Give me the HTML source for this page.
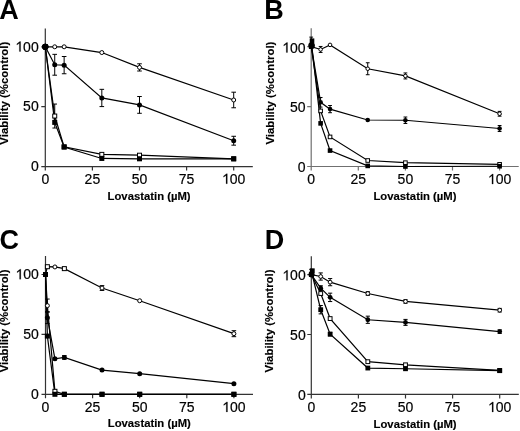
<!DOCTYPE html>
<html><head><meta charset="utf-8"><style>
html,body{margin:0;padding:0;background:#fff;overflow:hidden;width:520px;height:431px;}
svg{display:block;filter:grayscale(1);}
text{font-family:"Liberation Sans",sans-serif;fill:#000;}
.tk{font-size:14px;stroke:#000;stroke-width:0.2px;}
.one{fill:#000;stroke:#000;stroke-width:0.2px;stroke-linejoin:miter;}
.tt{font-size:11.4px;font-weight:bold;stroke:#000;stroke-width:0.15px;}
.tx{font-size:11.3px;font-weight:bold;stroke:#000;stroke-width:0.15px;}
.pl{font-size:27px;font-weight:bold;}
.ax{stroke-width:1.2;fill:none;}
.ln{stroke:#000;stroke-width:1.2;fill:none;}
.eb{stroke:#000;stroke-width:1;fill:none;}
.oc{stroke:#000;stroke-width:1;fill:#fff;}
.fc{fill:#000;stroke:none;}
</style></head><body>
<svg width="520" height="431" viewBox="0 0 520 431">
<g><path class="ax" stroke="#333" d="M45.3 28.4V170.6M41.3 166.6H252.8M41.3 106.7H45.3M41.3 46.8H45.3M92.4 166.6V170.6M139.5 166.6V170.6M186.6 166.6V170.6M233.7 166.6V170.6"/>
<text class="tk" x="38.7" y="171.3" text-anchor="end">0</text>
<text class="tk" x="38.7" y="111.4" text-anchor="end">50</text>
<text class="tk" x="38.7" y="51.5" text-anchor="end">00</text>
<polygon class="one" points="20.63,51.50 20.63,41.48 19.80,41.48 16.87,43.87 16.87,45.03 19.37,43.27 19.37,51.50"/>
<text class="tk" x="45.3" y="183.7" text-anchor="middle">0</text>
<text class="tk" x="92.4" y="183.7" text-anchor="middle">25</text>
<text class="tk" x="139.5" y="183.7" text-anchor="middle">50</text>
<text class="tk" x="186.6" y="183.7" text-anchor="middle">75</text>
<text class="tk" x="229.81" y="183.7">00</text>
<polygon class="one" points="227.30,183.70 227.30,173.68 226.48,173.68 223.55,176.07 223.55,177.23 226.04,175.47 226.04,183.70"/>
<text class="tx" x="149.1" y="199.7" text-anchor="middle">Lovastatin (µM)</text>
<text class="tt" transform="translate(8.2 93.2) rotate(-90)" text-anchor="middle">Viability (%control)</text>
<text class="pl" x="-0.7" y="19.2">A</text>
<polyline class="ln" points="45.3,46.8 54.72,116.04 64.14,146.83 101.82,154.38 139.5,155.22 233.7,158.81"/>
<polyline class="ln" points="45.3,46.8 54.72,122.39 64.14,147.07 101.82,158.45 139.5,158.81 233.7,158.81"/>
<polyline class="ln" points="45.3,46.8 54.72,64.77 64.14,65.13 101.82,97.95 139.5,104.9 233.7,140.72"/>
<polyline class="ln" points="45.3,46.8 54.72,46.8 64.14,46.8 101.82,52.55 139.5,67.41 233.7,99.99"/>
<path class="eb" d="M54.72 104.06V128.02M52.42 104.06h4.6M52.42 128.02h4.6"/>
<path class="eb" d="M54.72 54.35V75.19M52.42 54.35h4.6M52.42 75.19h4.6"/>
<path class="eb" d="M64.14 56.5V73.75M61.84 56.5h4.6M61.84 73.75h4.6"/>
<path class="eb" d="M101.82 89.33V106.58M99.52 89.33h4.6M99.52 106.58h4.6"/>
<path class="eb" d="M139.5 96.52V113.29M137.2 96.52h4.6M137.2 113.29h4.6"/>
<path class="eb" d="M233.7 136.29V145.16M231.4 136.29h4.6M231.4 145.16h4.6"/>
<path class="eb" d="M139.5 63.81V71M137.2 63.81h4.6M137.2 71h4.6"/>
<path class="eb" d="M233.7 92.2V107.78M231.4 92.2h4.6M231.4 107.78h4.6"/>
<circle class="fc" cx="45.3" cy="46.8" r="3.1"/>
<circle class="oc" cx="54.72" cy="46.8" r="2.0"/>
<circle class="oc" cx="64.14" cy="46.8" r="2.0"/>
<circle class="oc" cx="101.82" cy="52.55" r="2.0"/>
<circle class="oc" cx="139.5" cy="67.41" r="2.0"/>
<circle class="oc" cx="233.7" cy="99.99" r="2.0"/>
<circle class="fc" cx="45.3" cy="46.8" r="3.1"/>
<rect class="oc" x="52.72" y="114.04" width="4" height="4"/>
<rect class="oc" x="62.14" y="144.83" width="4" height="4"/>
<rect class="oc" x="99.82" y="152.38" width="4" height="4"/>
<rect class="oc" x="137.5" y="153.22" width="4" height="4"/>
<rect class="oc" x="231.7" y="156.81" width="4" height="4"/>
<circle class="fc" cx="45.3" cy="46.8" r="3.1"/>
<rect class="fc" x="52.22" y="119.89" width="5" height="5"/>
<rect class="fc" x="61.64" y="144.57" width="5" height="5"/>
<rect class="fc" x="99.32" y="155.95" width="5" height="5"/>
<rect class="fc" x="137" y="156.31" width="5" height="5"/>
<rect class="fc" x="231.2" y="156.31" width="5" height="5"/>
<circle class="fc" cx="45.3" cy="46.8" r="3.1"/>
<circle class="fc" cx="54.72" cy="64.77" r="2.5"/>
<circle class="fc" cx="64.14" cy="65.13" r="2.5"/>
<circle class="fc" cx="101.82" cy="97.95" r="2.5"/>
<circle class="fc" cx="139.5" cy="104.9" r="2.5"/>
<circle class="fc" cx="233.7" cy="140.72" r="2.5"/></g>
<g><path class="ax" stroke="#707070" d="M311.2 28.3V170.5M307.2 166.5H518.7M307.2 106.6H311.2M307.2 46.7H311.2M358.3 166.5V170.5M405.4 166.5V170.5M452.5 166.5V170.5M499.6 166.5V170.5"/>
<text class="tk" x="305.6" y="172.3" text-anchor="end">0</text>
<text class="tk" x="305.6" y="112.4" text-anchor="end">50</text>
<text class="tk" x="305.6" y="52.5" text-anchor="end">00</text>
<polygon class="one" points="287.53,52.50 287.53,42.48 286.70,42.48 283.77,44.87 283.77,46.03 286.27,44.27 286.27,52.50"/>
<text class="tk" x="311.2" y="184.1" text-anchor="middle">0</text>
<text class="tk" x="358.3" y="184.1" text-anchor="middle">25</text>
<text class="tk" x="405.4" y="184.1" text-anchor="middle">50</text>
<text class="tk" x="452.5" y="184.1" text-anchor="middle">75</text>
<text class="tk" x="495.71" y="184.1">00</text>
<polygon class="one" points="493.20,184.10 493.20,174.08 492.38,174.08 489.45,176.47 489.45,177.63 491.94,175.87 491.94,184.10"/>
<text class="tx" x="415" y="199.6" text-anchor="middle">Lovastatin (µM)</text>
<text class="tt" transform="translate(274.4 93.1) rotate(-90)" text-anchor="middle">Viability (%control)</text>
<text class="pl" x="264.3" y="19.2">B</text>
<polyline class="ln" points="311.2,46.7 320.62,110.91 330.04,136.91 367.72,160.51 405.4,162.67 499.6,164.34"/>
<polyline class="ln" points="311.2,40.71 320.62,123.37 330.04,150.57 367.72,165.9 405.4,166.5 499.6,166.26"/>
<polyline class="ln" points="311.2,45.5 320.62,102.29 330.04,109.12 367.72,120.02 405.4,120.26 499.6,128.52"/>
<polyline class="ln" points="311.2,46.7 320.62,49.46 330.04,44.9 367.72,68.74 405.4,75.93 499.6,113.79"/>
<path class="eb" d="M311.2 37.12V44.3M309.3 37.12h3.8M309.3 44.3h3.8"/>
<path class="eb" d="M320.62 97.5V107.08M318.72 97.5h3.8M318.72 107.08h3.8"/>
<path class="eb" d="M330.04 105.52V112.71M328.14 105.52h3.8M328.14 112.71h3.8"/>
<path class="eb" d="M405.4 117.02V123.49M403.5 117.02h3.8M403.5 123.49h3.8"/>
<path class="eb" d="M499.6 125.53V131.52M497.7 125.53h3.8M497.7 131.52h3.8"/>
<path class="eb" d="M320.62 46.46V52.45M318.72 46.46h3.8M318.72 52.45h3.8"/>
<path class="eb" d="M367.72 62.75V74.73M365.82 62.75h3.8M365.82 74.73h3.8"/>
<path class="eb" d="M405.4 72.94V78.93M403.5 72.94h3.8M403.5 78.93h3.8"/>
<path class="eb" d="M499.6 111.39V116.18M497.7 111.39h3.8M497.7 116.18h3.8"/>
<circle class="oc" cx="311.2" cy="46.7" r="1.7999999999999998"/>
<circle class="oc" cx="320.62" cy="49.46" r="1.7999999999999998"/>
<circle class="oc" cx="330.04" cy="44.9" r="1.7999999999999998"/>
<circle class="oc" cx="367.72" cy="68.74" r="1.7999999999999998"/>
<circle class="oc" cx="405.4" cy="75.93" r="1.7999999999999998"/>
<circle class="oc" cx="499.6" cy="113.79" r="1.7999999999999998"/>
<rect class="oc" x="309.4" y="44.9" width="3.6" height="3.6"/>
<rect class="oc" x="318.82" y="109.11" width="3.6" height="3.6"/>
<rect class="oc" x="328.24" y="135.11" width="3.6" height="3.6"/>
<rect class="oc" x="365.92" y="158.71" width="3.6" height="3.6"/>
<rect class="oc" x="403.6" y="160.87" width="3.6" height="3.6"/>
<rect class="oc" x="497.8" y="162.54" width="3.6" height="3.6"/>
<rect class="fc" x="309.7" y="38.41" width="4.6" height="4.6"/>
<rect class="fc" x="318.32" y="121.07" width="4.6" height="4.6"/>
<rect class="fc" x="327.74" y="148.27" width="4.6" height="4.6"/>
<rect class="fc" x="365.42" y="163.6" width="4.6" height="4.6"/>
<rect class="fc" x="403.1" y="164.2" width="4.6" height="4.6"/>
<rect class="fc" x="497.3" y="163.96" width="4.6" height="4.6"/>
<circle class="fc" cx="311.6" cy="45.5" r="3.3"/>
<circle class="fc" cx="320.62" cy="102.29" r="2.3"/>
<circle class="fc" cx="330.04" cy="109.12" r="2.3"/>
<circle class="fc" cx="367.72" cy="120.02" r="2.3"/>
<circle class="fc" cx="405.4" cy="120.26" r="2.3"/>
<circle class="fc" cx="499.6" cy="128.52" r="2.3"/></g>
<g><path class="ax" stroke="#333" d="M45.5 256.1V398.3M41.5 394.3H253M41.5 334.4H45.5M41.5 274.5H45.5M92.6 394.3V398.3M139.7 394.3V398.3M186.8 394.3V398.3M233.9 394.3V398.3"/>
<text class="tk" x="38.9" y="399" text-anchor="end">0</text>
<text class="tk" x="38.9" y="339.1" text-anchor="end">50</text>
<text class="tk" x="38.9" y="279.2" text-anchor="end">00</text>
<polygon class="one" points="20.83,279.20 20.83,269.18 20.00,269.18 17.07,271.57 17.07,272.73 19.57,270.97 19.57,279.20"/>
<text class="tk" x="45.5" y="411.9" text-anchor="middle">0</text>
<text class="tk" x="92.6" y="411.9" text-anchor="middle">25</text>
<text class="tk" x="139.7" y="411.9" text-anchor="middle">50</text>
<text class="tk" x="186.8" y="411.9" text-anchor="middle">75</text>
<text class="tk" x="230.01" y="411.9">00</text>
<polygon class="one" points="227.50,411.90 227.50,401.88 226.68,401.88 223.75,404.27 223.75,405.43 226.24,403.67 226.24,411.90"/>
<text class="tx" x="149.3" y="427.4" text-anchor="middle">Lovastatin (µM)</text>
<text class="tt" transform="translate(8.4 320.9) rotate(-90)" text-anchor="middle">Viability (%control)</text>
<text class="pl" x="-0.5" y="249.2">C</text>
<polyline class="ln" points="45.5,274.5 47.38,305.65 54.92,391.31 64.34,394.3 102.02,394.3 139.7,394.3 233.9,394.3"/>
<polyline class="ln" points="45.5,274.5 47.38,336.08 54.92,394.3 64.34,394.3 102.02,394.3 139.7,394.3 233.9,394.3"/>
<polyline class="ln" points="45.5,274.5 47.38,317.63 54.92,358.84 64.34,357.4 102.02,370.1 139.7,373.69 233.9,383.64"/>
<polyline class="ln" points="45.5,274.5 47.38,266.71 54.92,266.95 64.34,268.63 102.02,288.04 139.7,300.74 233.9,333.68"/>
<path class="eb" d="M47.38 299.06V312.24M45.08 299.06h4.6M45.08 312.24h4.6"/>
<path class="eb" d="M47.38 311.64V323.62M45.08 311.64h4.6M45.08 323.62h4.6"/>
<path class="eb" d="M64.34 355.6V359.2M62.04 355.6h4.6M62.04 359.2h4.6"/>
<path class="eb" d="M64.34 267.43V269.83M62.04 267.43h4.6M62.04 269.83h4.6"/>
<path class="eb" d="M102.02 285.64V290.43M99.72 285.64h4.6M99.72 290.43h4.6"/>
<path class="eb" d="M233.9 330.69V336.68M231.6 330.69h4.6M231.6 336.68h4.6"/>
<circle class="oc" cx="45.5" cy="274.5" r="2.0"/>
<rect class="oc" x="45.38" y="264.71" width="4" height="4"/>
<circle class="oc" cx="54.92" cy="266.95" r="2.0"/>
<rect class="oc" x="62.34" y="266.63" width="4" height="4"/>
<circle class="oc" cx="102.02" cy="288.04" r="2.0"/>
<circle class="oc" cx="139.7" cy="300.74" r="2.0"/>
<circle class="oc" cx="233.9" cy="333.68" r="2.0"/>
<rect class="oc" x="43.5" y="272.5" width="4" height="4"/>
<circle class="oc" cx="47.38" cy="305.65" r="2.0"/>
<rect class="oc" x="52.92" y="389.31" width="4" height="4"/>
<rect class="oc" x="62.34" y="392.3" width="4" height="4"/>
<rect class="oc" x="100.02" y="392.3" width="4" height="4"/>
<rect class="oc" x="137.7" y="392.3" width="4" height="4"/>
<rect class="oc" x="231.9" y="392.3" width="4" height="4"/>
<circle class="fc" cx="45.5" cy="274.5" r="2.5"/>
<circle class="fc" cx="47.38" cy="317.63" r="2.5"/>
<circle class="fc" cx="54.92" cy="358.84" r="2.5"/>
<circle class="fc" cx="64.34" cy="357.4" r="2.5"/>
<circle class="fc" cx="102.02" cy="370.1" r="2.5"/>
<circle class="fc" cx="139.7" cy="373.69" r="2.5"/>
<circle class="fc" cx="233.9" cy="383.64" r="2.5"/>
<rect class="fc" x="43" y="272" width="5" height="5"/>
<rect class="fc" x="44.88" y="333.58" width="5" height="5"/>
<rect class="fc" x="52.42" y="391.8" width="5" height="5"/>
<rect class="fc" x="61.84" y="391.8" width="5" height="5"/>
<rect class="fc" x="99.52" y="391.8" width="5" height="5"/>
<rect class="fc" x="137.2" y="391.8" width="5" height="5"/>
<rect class="fc" x="231.4" y="391.8" width="5" height="5"/></g>
<g><path class="ax" stroke="#333" d="M311.3 256.2V398.4M307.3 394.4H518.8M307.3 334.5H311.3M307.3 274.6H311.3M358.4 394.4V398.4M405.5 394.4V398.4M452.6 394.4V398.4M499.7 394.4V398.4"/>
<text class="tk" x="305.7" y="400.1" text-anchor="end">0</text>
<text class="tk" x="305.7" y="340.2" text-anchor="end">50</text>
<text class="tk" x="305.7" y="280.3" text-anchor="end">00</text>
<polygon class="one" points="287.63,280.30 287.63,270.28 286.80,270.28 283.87,272.67 283.87,273.83 286.37,272.07 286.37,280.30"/>
<text class="tk" x="311.3" y="412" text-anchor="middle">0</text>
<text class="tk" x="358.4" y="412" text-anchor="middle">25</text>
<text class="tk" x="405.5" y="412" text-anchor="middle">50</text>
<text class="tk" x="452.6" y="412" text-anchor="middle">75</text>
<text class="tk" x="495.81" y="412">00</text>
<polygon class="one" points="493.30,412.00 493.30,401.98 492.48,401.98 489.55,404.37 489.55,405.53 492.04,403.77 492.04,412.00"/>
<text class="tx" x="415.1" y="427.5" text-anchor="middle">Lovastatin (µM)</text>
<text class="tt" transform="translate(273.3 321) rotate(-90)" text-anchor="middle">Viability (%control)</text>
<text class="pl" x="264.8" y="249.2">D</text>
<polyline class="ln" points="311.3,274.6 320.72,293.53 330.14,318.57 367.82,361.69 405.5,364.81 499.7,370.44"/>
<polyline class="ln" points="311.3,270.77 320.72,309.7 330.14,334.14 367.82,368.04 405.5,368.76 499.7,370.68"/>
<polyline class="ln" points="311.3,274.6 320.72,288.14 330.14,297.36 367.82,319.76 405.5,322.4 499.7,331.62"/>
<polyline class="ln" points="311.3,274.6 320.72,276.52 330.14,282.15 367.82,293.53 405.5,301.44 499.7,310.18"/>
<path class="eb" d="M311.3 269.33V272.2M309.2 269.33h4.2M309.2 272.2h4.2"/>
<path class="eb" d="M320.72 305.51V313.89M318.62 305.51h4.2M318.62 313.89h4.2"/>
<path class="eb" d="M330.14 332.34V335.94M328.04 332.34h4.2M328.04 335.94h4.2"/>
<path class="eb" d="M320.72 285.74V290.53M318.62 285.74h4.2M318.62 290.53h4.2"/>
<path class="eb" d="M330.14 293.17V301.55M328.04 293.17h4.2M328.04 301.55h4.2"/>
<path class="eb" d="M367.82 316.17V323.36M365.72 316.17h4.2M365.72 323.36h4.2"/>
<path class="eb" d="M405.5 319.41V325.4M403.4 319.41h4.2M403.4 325.4h4.2"/>
<path class="eb" d="M499.7 329.83V333.42M497.6 329.83h4.2M497.6 333.42h4.2"/>
<path class="eb" d="M320.72 272.92V280.11M318.62 272.92h4.2M318.62 280.11h4.2"/>
<path class="eb" d="M330.14 278.55V285.74M328.04 278.55h4.2M328.04 285.74h4.2"/>
<path class="eb" d="M367.82 291.73V295.33M365.72 291.73h4.2M365.72 295.33h4.2"/>
<path class="eb" d="M405.5 299.64V303.23M403.4 299.64h4.2M403.4 303.23h4.2"/>
<path class="eb" d="M499.7 308.38V311.98M497.6 308.38h4.2M497.6 311.98h4.2"/>
<circle class="oc" cx="311.3" cy="274.6" r="1.9"/>
<circle class="oc" cx="320.72" cy="276.52" r="1.9"/>
<circle class="oc" cx="330.14" cy="282.15" r="1.9"/>
<circle class="oc" cx="367.82" cy="293.53" r="1.9"/>
<circle class="oc" cx="405.5" cy="301.44" r="1.9"/>
<circle class="oc" cx="499.7" cy="310.18" r="1.9"/>
<rect class="oc" x="309.4" y="272.7" width="3.8" height="3.8"/>
<rect class="oc" x="318.82" y="291.63" width="3.8" height="3.8"/>
<rect class="oc" x="328.24" y="316.67" width="3.8" height="3.8"/>
<rect class="oc" x="365.92" y="359.79" width="3.8" height="3.8"/>
<rect class="oc" x="403.6" y="362.91" width="3.8" height="3.8"/>
<rect class="oc" x="497.8" y="368.54" width="3.8" height="3.8"/>
<rect class="fc" x="309.9" y="268.37" width="4.8" height="4.8"/>
<rect class="fc" x="318.32" y="307.3" width="4.8" height="4.8"/>
<rect class="fc" x="327.74" y="331.74" width="4.8" height="4.8"/>
<rect class="fc" x="365.42" y="365.64" width="4.8" height="4.8"/>
<rect class="fc" x="403.1" y="366.36" width="4.8" height="4.8"/>
<rect class="fc" x="497.3" y="368.28" width="4.8" height="4.8"/>
<circle class="fc" cx="311.6" cy="274.6" r="3.0"/>
<circle class="fc" cx="320.72" cy="288.14" r="2.4"/>
<circle class="fc" cx="330.14" cy="297.36" r="2.4"/>
<circle class="fc" cx="367.82" cy="319.76" r="2.4"/>
<circle class="fc" cx="405.5" cy="322.4" r="2.4"/>
<circle class="fc" cx="499.7" cy="331.62" r="2.4"/></g>
</svg>
</body></html>
